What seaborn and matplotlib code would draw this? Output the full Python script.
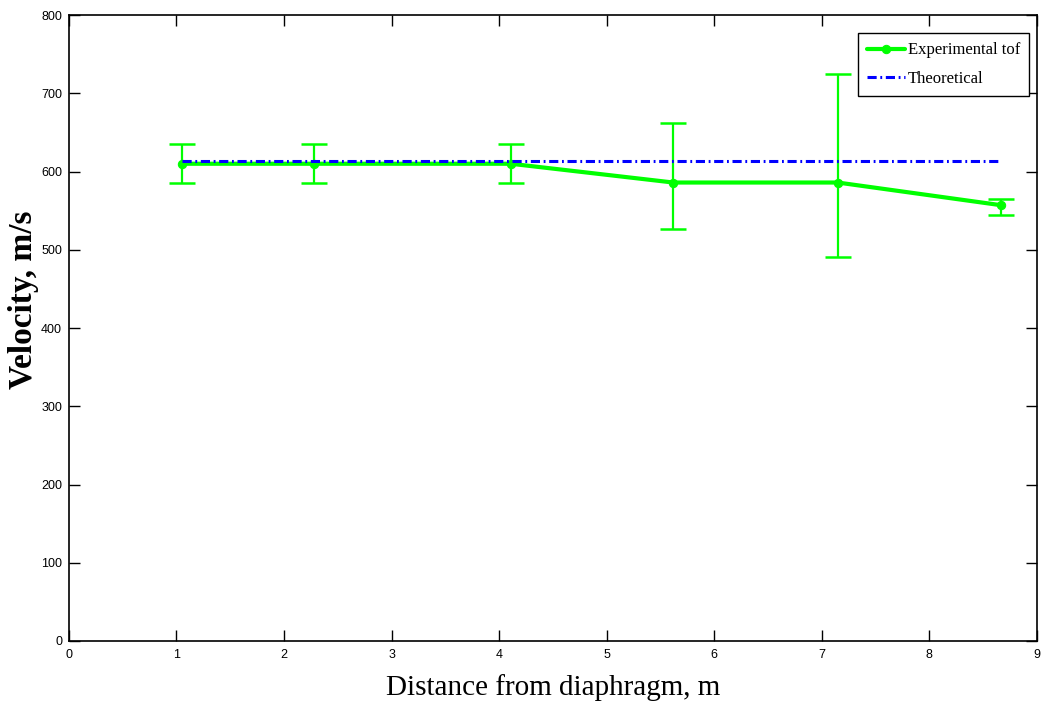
import matplotlib
matplotlib.use("Agg")
import matplotlib.pyplot as plt
import seaborn as sns
import pandas as pd
import numpy as np

# Data
distance = [1.05, 2.28, 4.11, 5.62, 7.15, 8.67]
velocity = [610, 610, 610, 586, 586, 557]
err_lower = [25, 25, 25, 60, 95, 13]
err_upper = [25, 25, 25, 76, 139, 8]
theoretical = [613, 613, 613, 613, 613, 613]

x_ticks = list(range(0, 10))
y_ticks = list(range(0, 801, 100))

sns.set_theme(style="ticks")
plt.rcParams["font.family"] = ["Liberation Serif", "DejaVu Serif"]
plt.rcParams["text.color"] = "black"
plt.rcParams["axes.labelcolor"] = "black"
plt.rcParams["xtick.color"] = "black"
plt.rcParams["ytick.color"] = "black"
plt.rcParams["axes.edgecolor"] = "black"

df = pd.DataFrame({"Distance": distance, "Velocity": velocity,
                   "Theoretical": theoretical})

fig = plt.figure(figsize=(10.45, 7.19), dpi=100)
ax = fig.add_axes([0.066, 0.1085, 0.926, 0.8705])

green = "#00FF00"
blue = "#0000FF"

ax.errorbar(df["Distance"], df["Velocity"], yerr=[err_lower, err_upper],
            fmt="none", ecolor=green, elinewidth=1.6, capsize=9.5, capthick=1.8,
            zorder=2)
sns.lineplot(data=df, x="Distance", y="Velocity", ax=ax, color=green,
             linewidth=3, marker="o", markersize=6, markeredgecolor=green,
             label="Experimental tof", zorder=3)
sns.lineplot(data=df, x="Distance", y="Theoretical", ax=ax, color=blue,
             linewidth=2.2, linestyle=(0, (3.0, 1.2, 0.6, 1.2)),
             label="Theoretical", zorder=4)

ax.set_xlim(0, 9)
ax.set_ylim(0, 800)
ax.set_xticks(x_ticks)
ax.set_yticks(y_ticks)
ax.set_xticklabels([str(t) for t in x_ticks])
ax.set_yticklabels([str(t) for t in y_ticks])

tick_font = ["Liberation Sans Narrow", "Liberation Sans", "DejaVu Sans"]
for lab in ax.get_xticklabels() + ax.get_yticklabels():
    lab.set_family(tick_font)
    lab.set_fontsize(9)
    lab.set_color("black")

ax.tick_params(direction="in", length=8, width=1, top=True, right=True,
               colors="black")
ax.tick_params(axis="y", pad=5)
ax.tick_params(axis="x", pad=6)
for s in ax.spines.values():
    s.set_visible(True)
    s.set_color("black")
    s.set_linewidth(1.2)

ax.set_xlabel("Distance from diaphragm, m", fontsize=21, labelpad=9,
              color="black")
ax.set_ylabel("Velocity, m/s", fontsize=24, fontweight="bold", color="black")
ax.yaxis.set_label_coords(-0.031, 0.545)

leg = ax.legend(loc="upper right", bbox_to_anchor=(0.9925, 0.971),
                prop={"family": ["Liberation Serif"], "size": 12},
                frameon=True, fancybox=False, framealpha=1,
                edgecolor="black", handlelength=2.3, handletextpad=0.15,
                borderpad=0.55, labelspacing=0.75, borderaxespad=0)
leg.get_frame().set_linewidth(1.0)
for t in leg.get_texts():
    t.set_color("black")

ax.grid(False)
fig.savefig("out.png", dpi=100)
